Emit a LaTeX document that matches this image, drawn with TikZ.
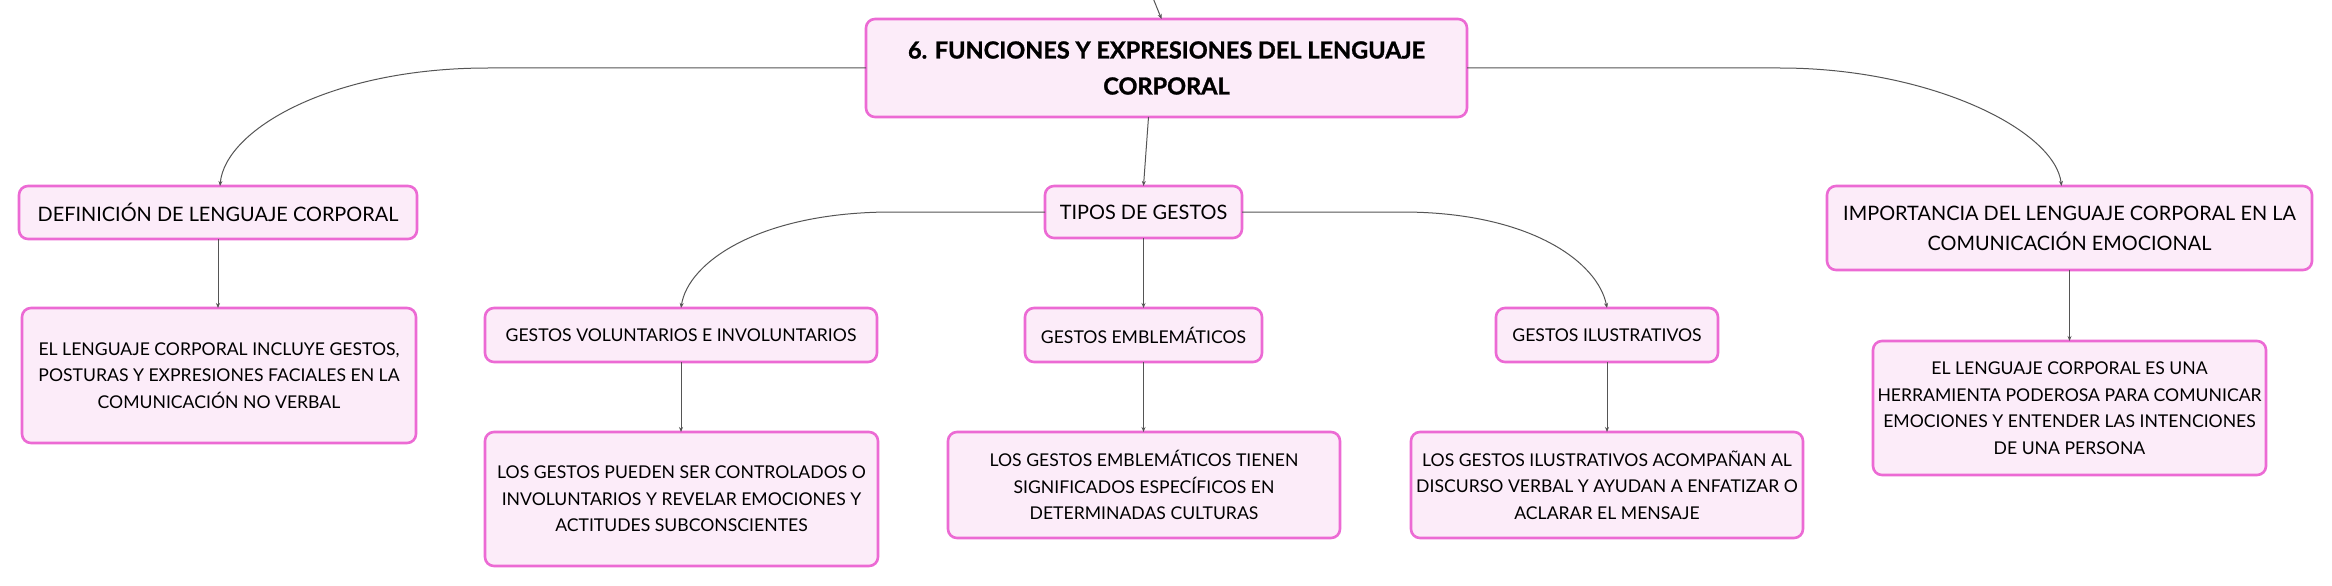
\documentclass[tikz,border=0pt]{standalone}
\usepackage{fontspec}
\setmainfont{Lato}
\newfontfamily\titlefont{Lato}[BoldFeatures={FakeBold=1.2}]
\usetikzlibrary{arrows.meta,calc}
\definecolor{pinkb}{RGB}{236,106,212}
\definecolor{pinkf}{RGB}{252,236,249}
\definecolor{conncol}{RGB}{85,85,85}
\tikzset{
  box/.style={draw=pinkb, fill=pinkf, line width=2.6pt, rounded corners=9pt,
    align=center, inner sep=0pt, outer sep=0pt, text=black},
  titlebox/.style={box, font=\fontsize{23.5}{36}\titlefont\bfseries},
  lvla/.style={box, font=\fontsize{19.9}{30}\selectfont},
  lvlb/.style={box, font=\fontsize{17.6}{27}\selectfont},
  leaf/.style={box, font=\fontsize{17.6}{26.5}\selectfont},
  conn/.style={draw=conncol, line width=1pt, -{Stealth[length=5pt,width=4pt]}},
}
\begin{document}
\begin{tikzpicture}[x=1pt,y=-1pt]
\useasboundingbox[fill=white] (0,0) rectangle (2332,586);

\node[titlebox, minimum width=601pt, minimum height=98pt] (root) at (1166.5,68)
  {6. FUNCIONES Y EXPRESIONES DEL LENGUAJE\\CORPORAL};
\coordinate (top) at (1153,-2);

\node[lvla, minimum width=398pt, minimum height=53pt] (def) at (218,212.5)
  {DEFINICIÓN DE LENGUAJE CORPORAL};
\node[leaf, minimum width=394pt, minimum height=135pt] (defc) at (219,375.5)
  {EL LENGUAJE CORPORAL INCLUYE GESTOS,\\POSTURAS Y EXPRESIONES FACIALES EN LA\\COMUNICACIÓN NO VERBAL};

\node[lvla, minimum width=197pt, minimum height=52pt] (tipos) at (1143.5,212)
  {TIPOS DE GESTOS};

\node[lvla, minimum width=485pt, minimum height=84pt] (imp) at (2069.5,228)
  {IMPORTANCIA DEL LENGUAJE CORPORAL EN LA\\COMUNICACIÓN EMOCIONAL};
\node[leaf, minimum width=393pt, minimum height=134pt] (impc) at (2069.5,408)
  {EL LENGUAJE CORPORAL ES UNA\\HERRAMIENTA PODEROSA PARA COMUNICAR\\EMOCIONES Y ENTENDER LAS INTENCIONES\\DE UNA PERSONA};

\node[lvlb, minimum width=392pt, minimum height=54pt] (gv) at (681,335)
  {GESTOS VOLUNTARIOS E INVOLUNTARIOS};
\node[leaf, minimum width=393pt, minimum height=134pt] (gvc) at (681.5,499)
  {LOS GESTOS PUEDEN SER CONTROLADOS O\\INVOLUNTARIOS Y REVELAR EMOCIONES Y\\ACTITUDES SUBCONSCIENTES};

\node[lvlb, minimum width=237pt, minimum height=54pt] (ge) at (1143.5,335)
  {GESTOS EMBLEMÁTICOS};
\node[leaf, minimum width=392pt, minimum height=106pt] (gec) at (1144,485)
  {LOS GESTOS EMBLEMÁTICOS TIENEN\\SIGNIFICADOS ESPECÍFICOS EN\\DETERMINADAS CULTURAS};

\node[lvlb, minimum width=222pt, minimum height=54pt] (gi) at (1607,335)
  {GESTOS ILUSTRATIVOS};
\node[leaf, minimum width=392pt, minimum height=106pt] (gic) at (1607,485)
  {LOS GESTOS ILUSTRATIVOS ACOMPAÑAN AL\\DISCURSO VERBAL Y AYUDAN A ENFATIZAR O\\ACLARAR EL MENSAJE};

% connectors
\draw[conn] (top) -- ([xshift=-5pt]root.north);
\draw[conn] ([xshift=-18pt]root.south) -- (tipos.north);
\draw[conn] (root.west) -- (488,68) .. controls (330,68) and (225,130) .. ([xshift=2pt]def.north);
\draw[conn] (root.east) -- (1780,68) .. controls (1930,68) and (2055,130) .. ([xshift=-8pt]imp.north);
\draw[conn] (def.south) -- (defc.north -| def.south);
\draw[conn] (imp.south) -- (impc.north);
\draw[conn] (tipos.west) -- (892,212) .. controls (760,212) and (688,262) .. (gv.north);
\draw[conn] (tipos.south) -- (ge.north);
\draw[conn] (tipos.east) -- (1402,212) .. controls (1530,212) and (1598,262) .. (gi.north);
\draw[conn] (gv.south) -- (gvc.north -| gv.south);
\draw[conn] (ge.south) -- (gec.north -| ge.south);
\draw[conn] (gi.south) -- (gic.north);
\end{tikzpicture}
\end{document}
